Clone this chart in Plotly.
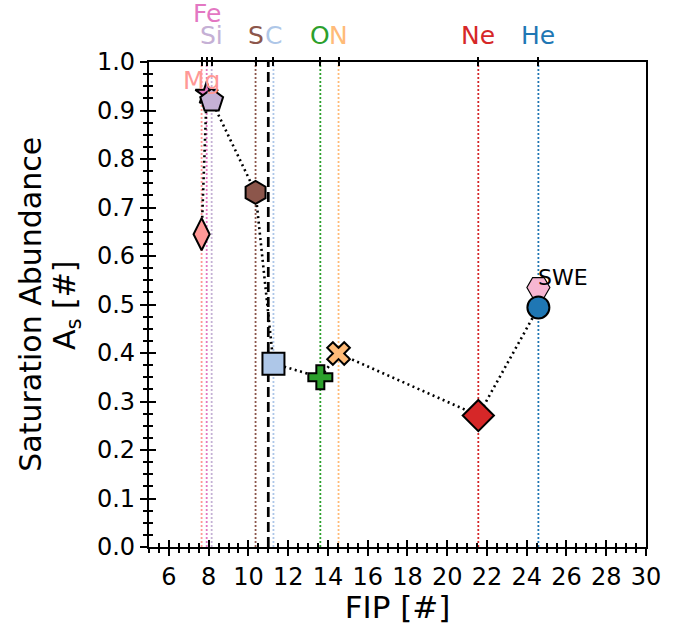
import plotly.graph_objects as go

# ---- data ----
elements = ["Mg", "Fe", "Si", "S", "C", "O", "N", "Ne", "He"]
fip = [7.646, 7.902, 8.152, 10.360, 11.260, 13.618, 14.534, 21.565, 24.587]
abundance = [0.645, 0.935, 0.920, 0.731, 0.378, 0.350, 0.399, 0.271, 0.494]
colors = ["#ff9896", "#e377c2", "#c5b0d5", "#8c564b", "#aec7e8",
          "#2ca02c", "#ffbb78", "#d62728", "#1f77b4"]
symbols = ["diamond-tall", "star", "pentagon", "hexagon", "square",
           "cross", "x", "diamond", "circle"]
sizes = [23, 17, 24, 23, 22, 20, 20, 24, 22]
# label level: 0 = normal top row, 1 = upper top row, -1 = inside plot
label_level = [-1, 1, 0, 0, 0, 0, 0, 0, 0]

swe_fip = [24.587]
swe_abundance = [0.535]
swe_label = "SWE"
swe_color = "#f7b6d2"

fip_threshold = 11.0

x_range = [5, 30]
y_range = [0, 1]

fig = go.Figure()

# vertical element lines
for el, f, c in zip(elements, fip, colors):
    fig.add_trace(go.Scatter(x=[f, f], y=y_range, mode="lines",
                             line=dict(color=c, width=1.8, dash="2px,2px"),
                             hoverinfo="skip", showlegend=False))

# threshold line
fig.add_trace(go.Scatter(x=[fip_threshold, fip_threshold], y=y_range, mode="lines",
                         line=dict(color="black", width=2.7, dash="10px,5px"),
                         hoverinfo="skip", showlegend=False))

# connecting dotted line
fig.add_trace(go.Scatter(x=fip, y=abundance, mode="lines",
                         line=dict(color="black", width=2.6, dash="2px,3.5px"),
                         hoverinfo="skip", showlegend=False))

# SWE marker
fig.add_trace(go.Scatter(x=swe_fip, y=swe_abundance, mode="markers",
                         marker=dict(symbol="hexagon2", size=23, color=swe_color,
                                     opacity=1, line=dict(color="black", width=1.2)),
                         showlegend=False))

# element markers
fig.add_trace(go.Scatter(x=fip, y=abundance, mode="markers", text=elements,
                         marker=dict(symbol=symbols, size=sizes, color=colors, opacity=1,
                                     line=dict(color="black", width=2)),
                         showlegend=False))

# dummy traces to anchor extra axes
for xa, ya in [("x2", "y"), ("x3", "y"), ("x4", "y"), ("x", "y2")]:
    fig.add_trace(go.Scatter(x=[None], y=[None], xaxis=xa, yaxis=ya,
                             mode="markers", showlegend=False, hoverinfo="skip"))

# annotations: element labels
for el, f, c, lv in zip(elements, fip, colors, label_level):
    ypos = {0: 1.054, 1: 1.1, -1: 0.961}[lv]
    fig.add_annotation(x=f, y=ypos, xref="x", yref="paper", text=el,
                       showarrow=False, xanchor="center", yanchor="middle",
                       font=dict(color=c, size=25, family="DejaVu Sans"))

fig.add_annotation(x=swe_fip[0], y=swe_abundance[0], xref="x", yref="y",
                   text=swe_label, showarrow=False, xanchor="left", yanchor="bottom",
                   xshift=-2, yshift=-4,
                   font=dict(color="black", size=22, family="DejaVu Sans"))

# y title (two lines)
title_font = dict(color="black", size=30, family="DejaVu Sans")
fig.add_annotation(x=-0.239, y=0.5, xref="paper", yref="paper",
                   text="Saturation Abundance",
                   textangle=-90, showarrow=False, xanchor="center", yanchor="middle",
                   font=title_font)
fig.add_annotation(x=-0.166, y=0.5, xref="paper", yref="paper",
                   text="A<sub>s</sub> [#]",
                   textangle=-90, showarrow=False, xanchor="center", yanchor="middle",
                   font=title_font)

font_tick = dict(color="black", size=24, family="DejaVu Sans")

fig.update_layout(
    width=694, height=625,
    margin=dict(l=149, r=48, t=62, b=78, autoexpand=False),
    template="none",
    plot_bgcolor="white", paper_bgcolor="white",
    showlegend=False,
    xaxis=dict(range=x_range, tick0=0, dtick=2, ticks="outside", ticklen=7, tickwidth=2,
               tickcolor="black", showline=True, linecolor="black", linewidth=2.2,
               mirror=True, showgrid=False, zeroline=False, tickfont=font_tick,
               minor=dict(dtick=0.5, ticks="outside", ticklen=4, tickwidth=1.5,
                          tickcolor="black", showgrid=False),
               title=dict(text="FIP [#]", font=dict(size=31, color="black",
                                                    family="DejaVu Sans"), standoff=0)),
    xaxis3=dict(range=x_range, overlaying="x", anchor="y", side="bottom", tick0=0, dtick=2,
                ticks="inside", ticklen=7, tickwidth=2, tickcolor="black",
                showticklabels=False, showline=False, showgrid=False, zeroline=False,
                minor=dict(dtick=0.5, ticks="inside", ticklen=4, tickwidth=1.5,
                           tickcolor="black", showgrid=False)),
    xaxis2=dict(range=x_range, overlaying="x", anchor="y", side="top",
                tickmode="array", tickvals=fip, ticks="outside", ticklen=4, tickwidth=2,
                tickcolor="black", showticklabels=False, showline=False,
                showgrid=False, zeroline=False),
    xaxis4=dict(range=x_range, overlaying="x", anchor="y", side="top",
                tickmode="array", tickvals=fip, ticks="inside", ticklen=4, tickwidth=2,
                tickcolor="black", showticklabels=False, showline=False,
                showgrid=False, zeroline=False),
    yaxis=dict(range=y_range, tick0=0, dtick=0.1, tickformat=".1f", ticks="outside",
               ticklen=7, tickwidth=2, tickcolor="black", showline=True,
               linecolor="black", linewidth=2.2, mirror=True, showgrid=False,
               zeroline=False, tickfont=font_tick,
               minor=dict(dtick=0.025, ticks="outside", ticklen=4, tickwidth=1.5,
                          tickcolor="black", showgrid=False)),
    yaxis2=dict(range=y_range, overlaying="y", anchor="x", side="left", tick0=0, dtick=0.1,
                ticks="inside", ticklen=7, tickwidth=2, tickcolor="black",
                showticklabels=False, showline=False, showgrid=False, zeroline=False,
                minor=dict(dtick=0.025, ticks="inside", ticklen=4, tickwidth=1.5,
                           tickcolor="black", showgrid=False)),
)

fig.write_html("out.html")
